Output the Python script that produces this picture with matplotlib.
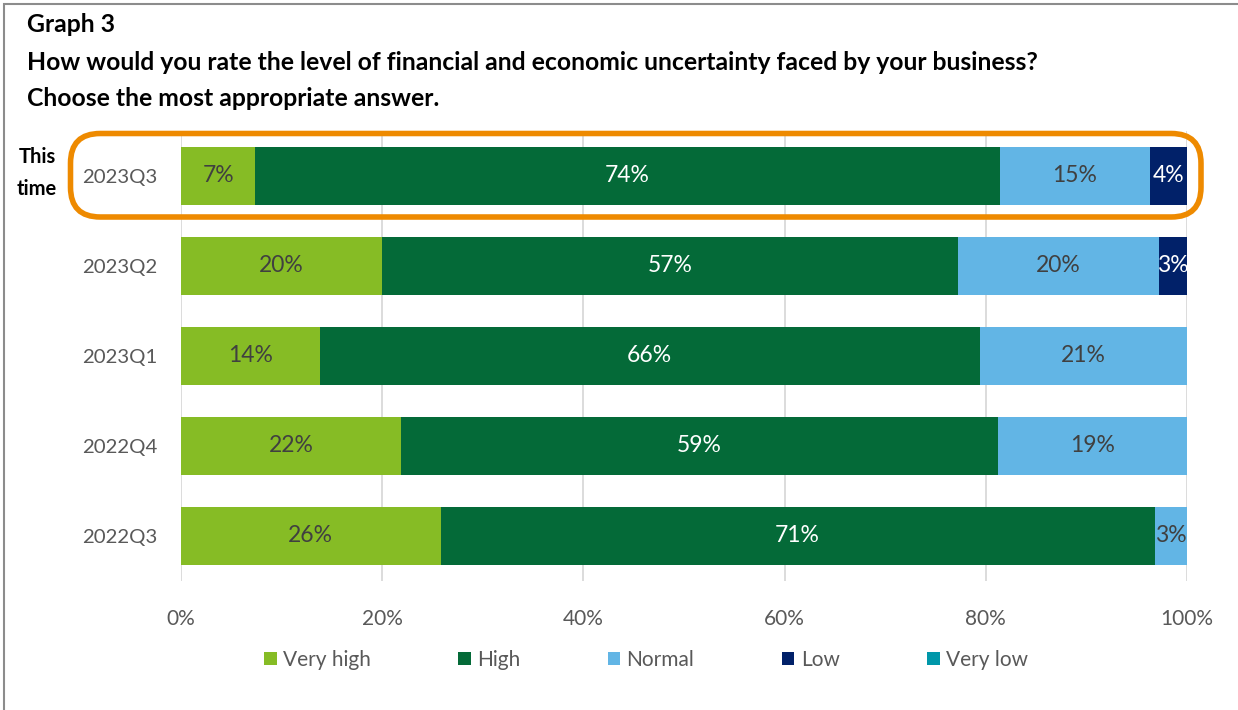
import numpy as np
import matplotlib
matplotlib.use("Agg")
import matplotlib.pyplot as plt
from matplotlib.patches import FancyBboxPatch, Rectangle, Patch

plt.rcParams['font.family'] = ['Lato', 'DejaVu Sans']

# survey periods, top to bottom
quarters = ['2023Q3', '2023Q2', '2023Q1', '2022Q4', '2022Q3']
answers = ['Very high', 'High', 'Normal', 'Low', 'Very low']

# share of answers per period (%)
very_high = [7.4, 20.0, 13.8, 21.9, 25.8]
high = [74.0, 57.2, 65.6, 59.3, 71.0]
normal = [14.9, 20.0, 20.6, 18.8, 3.2]
low = [3.7, 2.8, 0.0, 0.0, 0.0]
very_low = [0.0, 0.0, 0.0, 0.0, 0.0]

colors = ['#86BC25', '#046A38', '#62B5E5', '#012169', '#0097A9']
label_colors = ['#404040', 'white', '#404040', 'white', 'white']
grey = '#595959'

fig = plt.figure(figsize=(12.38, 7.10), dpi=100)
W, H = 1238, 710

def fx(px):
    return px / W

def fy(py):
    return 1 - py / H

ax = fig.add_axes([fx(181), fy(581), fx(1187) - fx(181), fy(131) - fy(581)])

series = [very_high, high, normal, low, very_low]
y = np.arange(len(quarters))
left = np.zeros(len(quarters))
for vals, col, lcol in zip(series, colors, label_colors):
    vals = np.array(vals)
    ax.barh(y, vals, left=left, height=0.645, color=col, zorder=3)
    for yi, v, l in zip(y, vals, left):
        if v > 0:
            ax.text(l + v / 2, yi, f'{v:.0f}%', ha='center', va='center',
                    fontsize=16.5, color=lcol, zorder=4)
    left += vals

ax.set_xlim(0, 100)
ax.set_ylim(len(quarters) - 0.5, -0.5)
ax.set_yticks(y)
ax.set_yticklabels(quarters)
ax.set_xticks(np.arange(0, 101, 20))
ax.set_xticklabels([f'{t}%' for t in range(0, 101, 20)])
ax.tick_params(axis='both', length=0, labelsize=15, labelcolor=grey)
ax.tick_params(axis='y', labelsize=14.7, pad=17)
ax.tick_params(axis='x', pad=20)
ax.grid(axis='x', color='#D9D9D9', linewidth=1.3, zorder=0)
for s in ax.spines.values():
    s.set_visible(False)

# outer frame
fig.patches.append(Rectangle((fx(4), fy(715)), fx(1250), fy(4) - fy(715),
                             transform=fig.transFigure, fill=False,
                             edgecolor='#8C8C8C', linewidth=1.5))

# highlight around the latest quarter
fig.patches.append(FancyBboxPatch((fx(70.5), fy(217)), fx(1201) - fx(70.5), fy(133.5) - fy(217),
                                  boxstyle='round,pad=0,rounding_size=0.024',
                                  transform=fig.transFigure, fill=False,
                                  edgecolor='#EE8A00', linewidth=4, mutation_aspect=W / H))
fig.text(fx(37), fy(157), 'This', ha='center', va='center', fontsize=14.5, fontweight='bold')
fig.text(fx(37), fy(189), 'time', ha='center', va='center', fontsize=14.5, fontweight='bold')

fig.text(fx(27), fy(25), 'Graph 3', ha='left', va='center', fontsize=17.8, fontweight='bold')
fig.text(fx(27), fy(62), 'How would you rate the level of financial and economic uncertainty faced by your business?',
         ha='left', va='center', fontsize=17.8, fontweight='bold')
fig.text(fx(27), fy(98), 'Choose the most appropriate answer.', ha='left', va='center',
         fontsize=17.8, fontweight='bold')

handles = [Patch(facecolor=c, edgecolor='none') for c in colors]
leg = fig.legend(handles, answers, loc='center', bbox_to_anchor=(fx(646), fy(660)),
                 ncol=5, frameon=False, fontsize=15, handlelength=0.6, handleheight=0.6,
                 handletextpad=0.3, columnspacing=4.2)
for t in leg.get_texts():
    t.set_color(grey)

fig.savefig('out.png', dpi=100)
